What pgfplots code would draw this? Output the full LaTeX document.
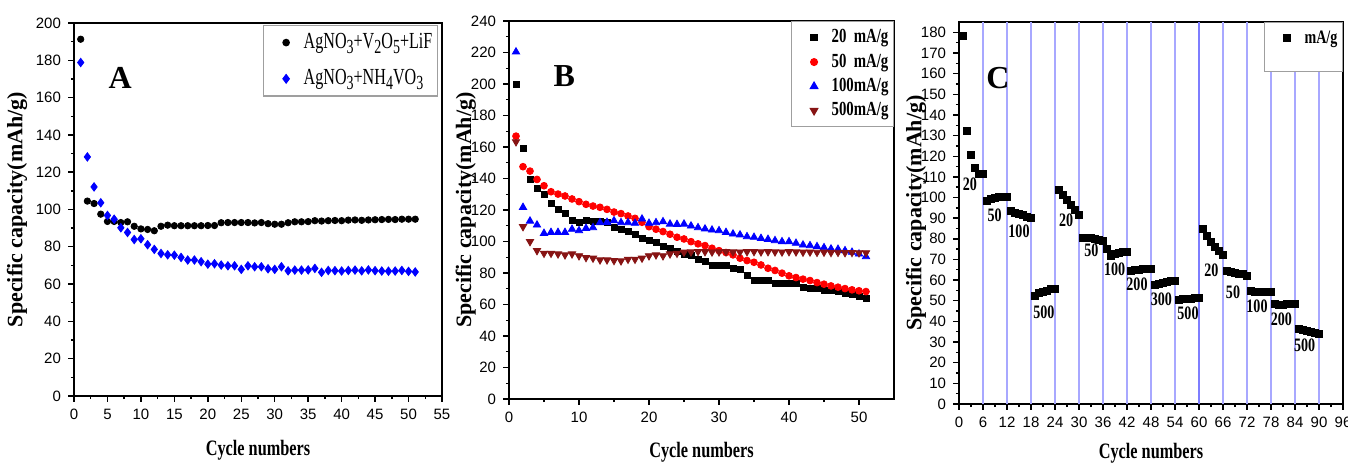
\documentclass[border=0pt]{standalone}
\usepackage{fontspec}
\setmainfont{Liberation Serif}
\newfontfamily\tickfont{Liberation Sans}
\newfontfamily\nserif[FakeStretch=0.74]{Liberation Serif}
\newfontfamily\lserif[FakeStretch=0.70]{Liberation Serif}
\usepackage{pgfplots}
\pgfplotsset{compat=1.18}
\definecolor{cBlue}{RGB}{0,0,255}
\definecolor{cRed}{RGB}{255,0,0}
\definecolor{cBrown}{RGB}{135,20,20}
\definecolor{cGrid}{RGB}{168,168,255}

\newcommand{\sub}[1]{\raisebox{-0.45ex}{\fontsize{10}{12}\selectfont #1}}

\pgfplotsset{
  panel/.style={
    scale only axis, clip=false,
    axis line style={line width=0.9pt},
    tick align=outside, xtick pos=bottom, ytick pos=left,
    minor tick num=1, major tick length=3pt, minor tick length=1.6pt,
    tick style={black, line width=0.7pt},
    tick label style={font=\tickfont\fontsize{7.5}{9}\selectfont},
    /pgf/number format/assume math mode=true,
    xlabel={\nserif\bfseries\fontsize{11}{13}\selectfont Cycle numbers},
    ylabel={\bfseries\fontsize{11}{13}\selectfont Specific capacity(mAh/g)},
    legend cell align=left,
  },
  % marker sits well inside the legend frame, text after a gap
  lgd/.style={legend image code/.code={%
      \path (0pt,0pt) (17pt,0pt);
      \draw[##1] plot coordinates {(10pt,0pt)};}},
  lgdbox/.style={draw=gray!75, line width=0.6pt, inner xsep=1pt,
      nodes={inner xsep=1.5pt}},
}

\begin{document}
\begin{tikzpicture}
\useasboundingbox (0,0) rectangle (674pt,232pt);

% ---------- A ----------
\begin{axis}[panel, at={(37pt,34pt)}, anchor=south west,
  width=184pt, height=186.5pt,
  xmin=0, xmax=55, ymin=0, ymax=200,
  xtick={0,5,...,55}, ytick={0,20,...,200},
  xlabel style={at={(axis description cs:0.5,-0.145)}, anchor=center},
  ylabel style={at={(axis description cs:-0.155,0.5)}, anchor=center},
  legend style={at={(rel axis cs:0.989,0.995)}, anchor=north east,
    lgdbox, row sep=5pt, font=\lserif\fontsize{11.5}{13}\selectfont},
]
\addplot[only marks, lgd, mark=*, mark size=1.6pt, black] coordinates {
  (1,191.3) (2,104.5) (3,103.2) (4,97.5) (5,93.6) (6,93.6) (7,93.0) (8,93.4)
  (9,91.0) (10,89.6) (11,89.3) (12,88.6) (13,91.0) (14,91.6) (15,91.3) (16,91.3)
  (17,91.3) (18,91.3) (19,91.3) (20,91.4) (21,91.4) (22,92.9) (23,93.0) (24,93.0)
  (25,93.0) (26,93.0) (27,92.8) (28,93.0) (29,92.4) (30,92.1) (31,92.1) (32,92.9)
  (33,93.4) (34,93.4) (35,93.5) (36,94.0) (37,93.8) (38,94.0) (39,94.1) (40,94.0)
  (41,94.3) (42,94.4) (43,94.2) (44,94.4) (45,94.5) (46,94.6) (47,94.7) (48,94.6)
  (49,94.8) (50,94.8) (51,94.8)};
\addlegendentry{AgNO\sub{3}+V\sub{2}O\sub{5}+LiF}
\addplot[only marks, lgd, mark=diamond*, mark size=2.1pt, cBlue] coordinates {
  (1,178.8) (2,128.2) (3,112.1) (4,103.6) (5,96.8) (6,94.8) (7,90.2) (8,87.7)
  (9,83.9) (10,84.3) (11,81.1) (12,78.6) (13,76.4) (14,75.7) (15,75.5) (16,74.3)
  (17,72.9) (18,72.9) (19,72.0) (20,70.7) (21,70.9) (22,70.2) (23,69.8) (24,69.8)
  (25,67.9) (26,69.8) (27,69.3) (28,69.3) (29,68.2) (30,67.9) (31,69.3) (32,67.1)
  (33,67.5) (34,67.5) (35,67.6) (36,68.4) (37,66.3) (38,67.3) (39,67.2) (40,67.0)
  (41,67.3) (42,67.5) (43,67.1) (44,67.6) (45,67.2) (46,67.0) (47,66.9) (48,67.0)
  (49,67.3) (50,66.8) (51,66.5)};
\addlegendentry{AgNO\sub{3}+NH\sub{4}VO\sub{3}}
\node[font=\bfseries\fontsize{16}{18}\selectfont] at (axis cs:6.9,170.5) {A};
\end{axis}

% ---------- B ----------
\begin{axis}[panel, at={(254.5pt,32.5pt)}, anchor=south west,
  width=192.5pt, height=189pt,
  xmin=0, xmax=55, ymin=0, ymax=240,
  xtick={0,10,...,50}, ytick={0,20,...,240},
  xlabel style={at={(axis description cs:0.5,-0.140)}, anchor=center},
  ylabel style={at={(axis description cs:-0.112,0.5)}, anchor=center},
  legend style={at={(rel axis cs:1,1)}, anchor=north east,
    lgdbox, row sep=0pt, font=\nserif\bfseries\fontsize{10}{12}\selectfont},
]
\addplot[only marks, lgd, mark=square*, mark size=1.5pt, black] coordinates {
  (1,200.0) (2,159.0) (3,139.4) (4,133.7) (5,130.1) (6,124.2) (7,120.4) (8,117.9)
  (9,113.2) (10,112.0) (11,113.2) (12,112.6) (13,112.6) (14,112.0) (15,109.0) (16,107.8)
  (17,106.7) (18,104.6) (19,101.8) (20,100.6) (21,99.5) (22,97.2) (23,95.7) (24,93.6)
  (25,92.1) (26,90.9) (27,88.7) (28,87.5) (29,85.1) (30,85.1) (31,84.7) (32,82.8)
  (33,82.0) (34,78.6) (35,75.6) (36,75.0) (37,75.0) (38,73.5) (39,73.1) (40,73.5)
  (41,73.1) (42,70.6) (43,70.4) (44,70.1) (45,68.7) (46,68.9) (47,68.5) (48,67.2)
  (49,66.3) (50,65.1) (51,64.0)};
\addlegendentry{20\ \ mA/g}
\addplot[only marks, lgd, mark=*, mark size=1.7pt, cRed] coordinates {
  (1,166.9) (2,147.5) (3,144.7) (4,139.4) (5,135.4) (6,131.6) (7,130.1) (8,128.9)
  (9,127.0) (10,125.3) (11,123.6) (12,122.5) (13,121.7) (14,120.4) (15,118.7) (16,117.7)
  (17,116.2) (18,114.7) (19,112.2) (20,109.4) (21,107.8) (22,106.3) (23,104.6) (24,102.7)
  (25,101.6) (26,99.9) (27,98.5) (28,97.4) (29,95.7) (30,94.2) (31,93.0) (32,91.5)
  (33,89.4) (34,87.9) (35,86.8) (36,85.1) (37,83.0) (38,81.6) (39,79.9) (40,78.2)
  (41,77.1) (42,76.1) (43,75.2) (44,73.9) (45,72.9) (46,71.8) (47,71.0) (48,70.1)
  (49,69.3) (50,68.7) (51,68.2)};
\addlegendentry{50\ \ mA/g}
\addplot[only marks, lgd, mark=triangle*, mark size=2.1pt, cBlue] coordinates {
  (1,220.4) (2,121.7) (3,113.0) (4,110.5) (5,105.2) (6,105.8) (7,105.8) (8,105.8)
  (9,107.8) (10,106.9) (11,108.4) (12,108.8) (13,112.0) (14,112.2) (15,113.2) (16,112.0)
  (17,112.0) (18,111.6) (19,114.3) (20,111.6) (21,112.0) (22,112.6) (23,111.1) (24,110.9)
  (25,111.1) (26,109.9) (27,108.8) (28,108.0) (29,107.3) (30,106.9) (31,105.8) (32,104.8)
  (33,104.2) (34,103.1) (35,102.7) (36,102.0) (37,101.4) (38,100.6) (39,99.9) (40,99.9)
  (41,98.9) (42,97.8) (43,97.4) (44,96.8) (45,96.1) (46,95.3) (47,95.1) (48,94.2)
  (49,93.2) (50,92.1) (51,90.4)};
\addlegendentry{100mA/g}
\addplot[only marks, lgd, mark=triangle*, mark size=2.1pt, mark options={rotate=180}, cBrown] coordinates {
  (1,163.3) (2,109.4) (3,99.9) (4,94.2) (5,92.5) (6,92.5) (7,92.1) (8,91.5)
  (9,92.1) (10,90.9) (11,89.8) (12,89.4) (13,88.3) (14,88.3) (15,87.9) (16,87.7)
  (17,88.7) (18,88.7) (19,89.4) (20,90.9) (21,91.5) (22,90.9) (23,92.1) (24,92.5)
  (25,93.2) (26,93.4) (27,93.6) (28,93.5) (29,93.3) (30,93.4) (31,93.5) (32,93.4)
  (33,93.3) (34,93.5) (35,93.6) (36,93.4) (37,93.5) (38,93.4) (39,93.3) (40,93.5)
  (41,93.4) (42,93.2) (43,93.3) (44,93.1) (45,93.2) (46,93.0) (47,93.1) (48,92.9)
  (49,93.0) (50,92.8) (51,92.8)};
\addlegendentry{500mA/g}
\node[font=\bfseries\fontsize{16}{18}\selectfont] at (axis cs:7.9,205) {B};
\end{axis}

% ---------- C ----------
\begin{axis}[panel, at={(479.5pt,30pt)}, anchor=south west,
  width=192pt, height=191pt,
  xmin=0, xmax=96, ymin=0, ymax=185,
  xtick={0,6,...,96}, ytick={0,10,...,180},
  xlabel style={at={(axis description cs:0.5,-0.128)}, anchor=center},
  ylabel style={at={(axis description cs:-0.112,0.5)}, anchor=center},
  legend style={at={(rel axis cs:1,1)}, anchor=north east,
    lgdbox, row sep=0pt,
    font=\nserif\bfseries\fontsize{9.5}{11}\selectfont},
]
\pgfplotsinvokeforeach{6,12,...,90}{
  \draw[cGrid, line width=0.6pt] (axis cs:#1,0) -- (axis cs:#1,185);
}
\draw[cGrid!75!blue, line width=0.6pt] (axis cs:60,0) -- (axis cs:60,185);
\addplot[only marks, lgd, mark=square*, mark size=1.75pt, black] coordinates {
  (1,178.4) (2,132.3) (3,120.7) (4,114.2) (5,111.5) (6,111.5)
  (7,98.4) (8,99.5) (9,100.0) (10,100.2) (11,100.3) (12,100.5)
  (13,93.5) (14,92.7) (15,92.1) (16,91.5) (17,90.8) (18,90.0)
  (19,52.5) (20,53.6) (21,54.2) (22,54.9) (23,55.5) (24,55.8)
  (25,103.5) (26,101.2) (27,98.8) (28,96.5) (29,94.2) (30,91.5)
  (31,80.6) (32,80.5) (33,80.4) (34,80.1) (35,79.7) (36,79.2)
  (37,75.0) (38,71.8) (39,72.5) (40,73.2) (41,73.6) (42,73.8)
  (43,64.3) (44,64.8) (45,65.0) (46,65.3) (47,65.5) (48,65.6)
  (49,57.8) (50,58.3) (51,58.7) (52,59.1) (53,59.4) (54,59.7)
  (55,50.4) (56,50.7) (57,50.9) (58,51.1) (59,51.3) (60,51.5)
  (61,84.7) (62,81.2) (63,78.5) (64,76.2) (65,74.0) (66,72.2)
  (67,64.6) (68,64.1) (69,63.6) (70,63.2) (71,62.8) (72,62.2)
  (73,54.6) (74,54.5) (75,54.5) (76,54.5) (77,54.4) (78,54.4)
  (79,48.5) (80,48.0) (81,48.2) (82,48.4) (83,48.5) (84,48.6)
  (85,36.4) (86,36.0) (87,35.5) (88,35.0) (89,34.5) (90,34.0)};
\addlegendentry{mA/g}
% empty second row only makes the legend frame taller, as in the original
\addlegendimage{empty legend}
\addlegendentry{\rule{0pt}{3pt}}
\node[font=\bfseries\fontsize{16}{18}\selectfont] at (axis cs:9.7,158) {C};
\begin{scope}[every node/.style={font=\nserif\bfseries\fontsize{9.5}{11}\selectfont}]
\node at (axis cs:2.7,106.5) {20};
\node at (axis cs:8.9,91.6) {50};
\node at (axis cs:15,83.5) {100};
\node at (axis cs:21.2,44.4) {500};
\node at (axis cs:26.8,89.2) {20};
\node at (axis cs:33.1,74.6) {50};
\node at (axis cs:38.9,65.3) {100};
\node at (axis cs:44.5,58.2) {200};
\node at (axis cs:50.6,50.7) {300};
\node at (axis cs:57.25,43.9) {500};
\node at (axis cs:63.1,64.6) {20};
\node at (axis cs:68.5,54) {50};
\node at (axis cs:74.5,47.5) {100};
\node at (axis cs:80.6,41) {200};
\node at (axis cs:86.4,28.3) {500};
\end{scope}
\end{axis}
\end{tikzpicture}
\end{document}
